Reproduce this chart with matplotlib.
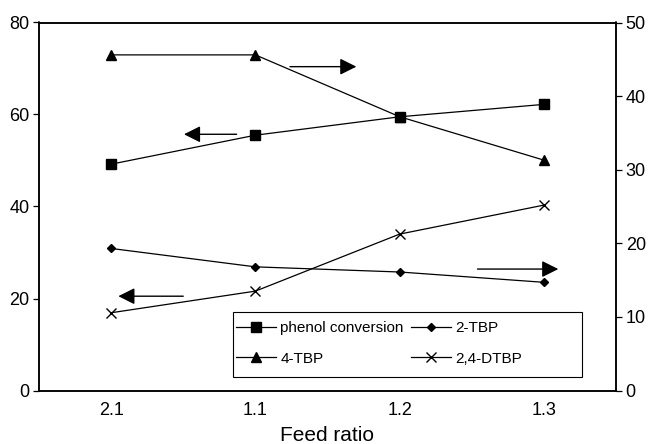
import matplotlib
matplotlib.use('Agg')
import matplotlib.pyplot as plt
from matplotlib.patches import FancyArrowPatch, Rectangle

plt.rcParams['font.family'] = ['Liberation Sans', 'DejaVu Sans']

# ---- data ----------------------------------------------------------------- #
feed_ratio = ['2.1', '1.1', '1.2', '1.3']
phenol_conversion = [49.2, 55.5, 59.5, 62.2]   # left axis
dtbp_24 = [16.9, 21.6, 34.0, 40.3]             # left axis
tbp_4 = [45.6, 45.6, 37.2, 31.3]               # right axis
tbp_2 = [19.3, 16.8, 16.1, 14.7]               # right axis

left_ticks = [0, 20, 40, 60, 80]
right_ticks = [0, 10, 20, 30, 40, 50]

W, H = 648, 444
fig = plt.figure(figsize=(W / 100, H / 100), dpi=100)
ax = fig.add_axes([39 / W, 1 - 390.5 / H, 577 / W, 368 / H])
ax2 = ax.twinx()

x = [i + 0.5 for i in range(len(feed_ratio))]
kw = dict(color='black', lw=0.9)

l1, = ax.plot(x, phenol_conversion, marker='s', ms=6.5, label='phenol conversion', **kw)
l4, = ax.plot(x, dtbp_24, marker='x', ms=7, mew=1.0, label='2,4-DTBP', **kw)
l3, = ax2.plot(x, tbp_4, marker='^', ms=7, label='4-TBP', **kw)
l2, = ax2.plot(x, tbp_2, marker='D', ms=4.5, label='2-TBP', **kw)

ax.set_xlim(0, len(feed_ratio))
ax.set_ylim(0, 80)
ax2.set_ylim(0, 50)
ax.set_xticks(x)
ax.set_xticklabels(feed_ratio)
ax.set_yticks(left_ticks)
ax2.set_yticks(right_ticks)
ax.tick_params(axis='x', length=0, labelsize=13, pad=8)
ax.tick_params(axis='y', length=4, width=0.9, labelsize=13, pad=3)
ax2.tick_params(axis='y', length=4, width=0.9, labelsize=13, pad=3)
for a in (ax, ax2):
    for s in a.spines.values():
        s.set_linewidth(1.1)
ax.set_xlabel('Feed ratio', fontsize=15, labelpad=5)

# arrows pointing to the axis each series belongs to (left-axis data coords)
arrows = [((1.74, 70.4), (2.20, 70.4)),
          ((1.37, 55.7), (1.005, 55.7)),
          ((1.00, 20.5), (0.55, 20.5)),
          ((3.04, 26.4), (3.60, 26.4))]
for tail, tip in arrows:
    ax.add_patch(FancyArrowPatch(tail, tip, arrowstyle='-|>,head_length=1.0,head_width=0.5',
                                 mutation_scale=10, color='black', lw=1.0,
                                 shrinkA=0, shrinkB=0, zorder=5))

# legend box (Excel style, wider than its contents)
ax2.add_patch(Rectangle((233 / W, 1 - 377 / H), 349 / W, 65 / H,
                        transform=fig.transFigure, facecolor='white',
                        edgecolor='black', lw=0.8, zorder=8, clip_on=False))
leg = ax2.legend([l1, l3, l2, l4], ['phenol conversion', '4-TBP', '2-TBP', '2,4-DTBP'],
                 ncol=2, loc='upper left', bbox_to_anchor=(236 / W, 1 - 321 / H),
                 bbox_transform=fig.transFigure, fontsize=11, frameon=False,
                 handlelength=2.6, handletextpad=0.3, borderpad=0, borderaxespad=0,
                 labelspacing=1.1, columnspacing=0.5)
leg.set_zorder(10)

fig.savefig('out.png', dpi=100)
